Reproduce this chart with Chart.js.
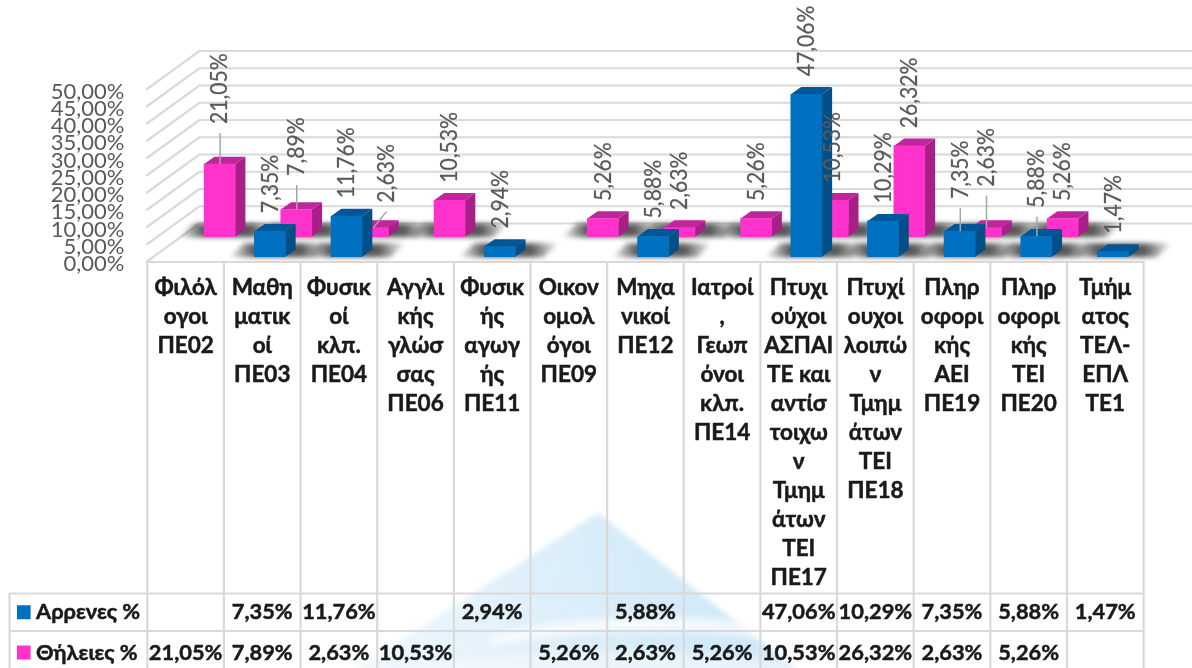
<!DOCTYPE html>
<html>
<head>
<meta charset="utf-8">
<style>
  html, body { margin: 0; padding: 0; background: #fff; overflow: hidden; }
  canvas { display: block; }
</style>
<script src="https://cdn.jsdelivr.net/npm/chart.js@4"></script>
</head>
<body>
<canvas id="chart" width="1192" height="668"></canvas>
<script>
// Values
const categories = [
  ["Φιλόλ", "ογοι", "ΠΕ02"],
  ["Μαθη", "ματικ", "οί", "ΠΕ03"],
  ["Φυσικ", "οί", "κλπ.", "ΠΕ04"],
  ["Αγγλι", "κής", "γλώσ", "σας", "ΠΕ06"],
  ["Φυσικ", "ής", "αγωγ", "ής", "ΠΕ11"],
  ["Οικον", "ομολ", "όγοι", "ΠΕ09"],
  ["Μηχα", "νικοί", "ΠΕ12"],
  ["Ιατροί", ",", "Γεωπ", "όνοι", "κλπ.", "ΠΕ14"],
  ["Πτυχι", "ούχοι", "ΑΣΠΑΙ", "ΤΕ και", "αντίσ", "τοιχω", "ν", "Τμημ", "άτων", "ΤΕΙ", "ΠΕ17"],
  ["Πτυχί", "ουχοι", "λοιπώ", "ν", "Τμημ", "άτων", "ΤΕΙ", "ΠΕ18"],
  ["Πληρ", "οφορι", "κής", "ΑΕΙ", "ΠΕ19"],
  ["Πληρ", "οφορι", "κής", "ΤΕΙ", "ΠΕ20"],
  ["Τμήμ", "ατος", "ΤΕΛ-", "ΕΠΛ", "ΤΕ1"]
];
const maleValues = [null, 7.35, 11.76, null, 2.94, null, 5.88, null, 47.06, 10.29, 7.35, 5.88, 1.47];
const femaleValues = [21.05, 7.89, 2.63, 10.53, null, 5.26, 2.63, 5.26, 10.53, 26.32, 2.63, 5.26, null];
const seriesNames = ["Αρρενες %", "Θήλειες %"];
const axisMax = 50;
const axisStep = 5;

// Styles of the 3D look, one entry per dataset
const looks = [
  { front: "#0070c0", side: "#004f88", top: "#005797", dx: 7.6, dy: -5.3, labelDx: 8.3, gap: 18 },
  { front: "#ff33cc", side: "#a81f88", top: "#c0269c", dx: 34, dy: -25.3, labelDx: 34.5, gap: 17.6 }
];
// labels pulled away from their bar, with a leader line: dataset, category, up, right
const pulledLabels = [
  [1, 0, 22.4, 0], [1, 1, 16, 0], [1, 2, 7.4, 13], [1, 10, 23.4, 0],
  [0, 10, 14.3, 0], [0, 11, 10.7, 0]
];

const wallDx = 52, wallDy = -38.5;
const sideDx = 10.3, sideDy = -7.3;
const greek = "Lato, 'Noto Sans', sans-serif";

function pct(v) {
  return v.toFixed(2).replace(".", ",") + "%";
}

function poly(ctx, pts, fill) {
  ctx.beginPath();
  pts.forEach((p, i) => i ? ctx.lineTo(p[0], p[1]) : ctx.moveTo(p[0], p[1]));
  ctx.closePath();
  ctx.fillStyle = fill;
  ctx.fill();
}

// Faint logo behind the table
function drawWatermark(ctx) {
  ctx.save();
  ctx.filter = "blur(2.5px)";
  const g = ctx.createLinearGradient(360, 668, 740, 560);
  g.addColorStop(0, "#f1f8fd");
  g.addColorStop(0.5, "#ddeffa");
  g.addColorStop(1, "#cfe8f8");
  poly(ctx, [[598, 513], [800, 672], [352, 672]], g);
  ctx.filter = "blur(4px)";
  ctx.fillStyle = "rgba(255,255,255,0.8)";
  ctx.beginPath();
  ctx.moveTo(490, 636);
  ctx.quadraticCurveTo(600, 608, 740, 622);
  ctx.lineTo(765, 636);
  ctx.quadraticCurveTo(600, 622, 490, 646);
  ctx.closePath();
  ctx.fill();
  ctx.beginPath();
  ctx.moveTo(400, 666);
  ctx.quadraticCurveTo(600, 642, 790, 660);
  ctx.lineTo(805, 672);
  ctx.lineTo(400, 672);
  ctx.closePath();
  ctx.globalAlpha = 0.6;
  ctx.fill();
  ctx.restore();
}

// Left wall and back wall gridlines come from the y scale
function drawWalls(chart) {
  const { ctx, chartArea, scales } = chart;
  ctx.save();
  ctx.strokeStyle = "#d9d9d9";
  ctx.lineWidth = 2.2;
  scales.y.ticks.forEach(t => {
    const y = scales.y.getPixelForValue(t.value);
    ctx.beginPath();
    ctx.moveTo(chartArea.left - 1, y);
    ctx.lineTo(chartArea.left + wallDx, y + wallDy);
    ctx.lineTo(chart.width + 5, y + wallDy);
    ctx.stroke();
  });
  ctx.restore();
}

function drawShadows(chart) {
  const { ctx } = chart;
  ctx.save();
  ctx.filter = "blur(2.5px)";
  [1, 0].forEach(d => {
    const look = looks[d];
    const meta = chart.getDatasetMeta(d);
    chart.data.datasets[d].data.forEach((v, i) => {
      if (v == null) return;
      const bar = meta.data[i];
      const l = bar.x + look.dx - bar.width / 2;
      const r = l + bar.width;
      const yb = bar.base + look.dy + 0.5;
      const yt = yb - 14;
      const g = ctx.createLinearGradient(l - 26, 0, r + 44, 0);
      g.addColorStop(0, "rgba(60,60,60,0)");
      g.addColorStop(0.25, "rgba(60,60,60,0.85)");
      g.addColorStop(0.72, "rgba(60,60,60,0.85)");
      g.addColorStop(1, "rgba(60,60,60,0)");
      poly(ctx, [[l - 26, yb], [r + 28, yb], [r + 44, yt], [l - 10, yt]], g);
    });
  });
  ctx.restore();
}

// Table under the plot: lines, legend keys and value rows
function drawTable(chart) {
  const { ctx, chartArea, scales } = chart;
  const rowTop = [593.5, 631];
  const rowEnd = 668;
  const left = 9.6;
  ctx.save();
  ctx.strokeStyle = "#d9d9d9";
  ctx.lineWidth = 2.2;
  ctx.beginPath();
  ctx.moveTo(chartArea.left - 1, chartArea.bottom);
  ctx.lineTo(chartArea.right + 1, chartArea.bottom);
  const colW = scales.x.width / categories.length;
  for (let i = 0; i <= categories.length; i++) {
    const x = chartArea.left + i * colW;
    ctx.moveTo(x, chartArea.bottom);
    ctx.lineTo(x, rowEnd);
  }
  ctx.moveTo(left, rowTop[0]);
  ctx.lineTo(left, rowEnd);
  rowTop.forEach(y => {
    ctx.moveTo(left - 1, y);
    ctx.lineTo(chartArea.right + 1, y);
  });
  ctx.stroke();

  ctx.font = "bold 21.8px " + greek;
  ctx.textBaseline = "middle";
  ctx.lineWidth = 0.5;
  ctx.strokeStyle = "#1a1a1a";
  const put = (text, x, y) => {
    ctx.fillText(text, x, y);
    ctx.strokeText(text, x, y);
  };
  chart.data.datasets.forEach((ds, d) => {
    const cy = (rowTop[d] + (rowTop[d + 1] || rowEnd + 6)) / 2;
    ctx.fillStyle = ds.backgroundColor;
    ctx.fillRect(17, cy - 7, 13.6, 14);
    ctx.fillStyle = "#1a1a1a";
    ctx.textAlign = "left";
    put(ds.label, 36, cy);
    ctx.textAlign = "center";
    ds.data.forEach((v, i) => {
      if (v != null) put(pct(v), scales.x.getPixelForTick(i), cy);
    });
  });
  ctx.restore();
}

function drawDataLabels(chart) {
  const { ctx } = chart;
  ctx.save();
  ctx.font = "22.5px Lato, sans-serif";
  ctx.textAlign = "left";
  ctx.textBaseline = "middle";
  chart.data.datasets.forEach((ds, d) => {
    const look = looks[d];
    const meta = chart.getDatasetMeta(d);
    ds.data.forEach((v, i) => {
      if (v == null) return;
      const bar = meta.data[i];
      const pull = pulledLabels.find(p => p[0] === d && p[1] === i);
      const topY = bar.y + look.dy;
      const x = bar.x + look.labelDx + (pull ? pull[3] : 0);
      const y = topY - look.gap - (pull ? pull[2] : 0);
      if (pull) {
        ctx.strokeStyle = "#a6a6a6";
        ctx.lineWidth = 1.5;
        ctx.beginPath();
        ctx.moveTo(x, y + 9);
        ctx.lineTo(bar.x + look.labelDx, topY);
        ctx.stroke();
      }
      ctx.save();
      ctx.translate(x, y);
      ctx.rotate(-Math.PI / 2);
      ctx.scale(0.94, 1);
      ctx.fillStyle = "#595959";
      ctx.strokeStyle = "#595959";
      ctx.lineWidth = 0.25;
      ctx.fillText(pct(v), 0, 0);
      ctx.strokeText(pct(v), 0, 0);
      ctx.restore();
    });
  });
  ctx.restore();
}

const box3d = {
  id: "box3d",
  beforeDraw(chart) {
    drawWatermark(chart.ctx);
  },
  beforeDatasetsDraw(chart) {
    drawWalls(chart);
    drawShadows(chart);
    drawTable(chart);
  },
  // the library draws the front face inside this shifted context
  beforeDatasetDraw(chart, args) {
    const { ctx } = chart;
    const look = looks[args.index];
    ctx.save();
    ctx.translate(look.dx, look.dy);
    args.meta.data.forEach((bar, i) => {
      if (chart.data.datasets[args.index].data[i] == null) return;
      const l = bar.x - bar.width / 2;
      const r = bar.x + bar.width / 2;
      poly(ctx, [[r, bar.y], [r + sideDx, bar.y + sideDy], [r + sideDx, bar.base + sideDy], [r, bar.base]], look.side);
      poly(ctx, [[l, bar.y], [l + sideDx, bar.y + sideDy], [r + sideDx, bar.y + sideDy], [r, bar.y]], look.top);
    });
  },
  afterDatasetDraw(chart) {
    chart.ctx.restore();
  },
  afterDatasetsDraw(chart) {
    drawDataLabels(chart);
  }
};

new Chart(document.getElementById("chart"), {
  type: "bar",
  data: {
    labels: categories,
    datasets: [
      { label: seriesNames[0], data: maleValues, backgroundColor: looks[0].front, clip: false, grouped: false, barThickness: 31 },
      { label: seriesNames[1], data: femaleValues, backgroundColor: looks[1].front, clip: false, grouped: false, barThickness: 31 }
    ]
  },
  options: {
    responsive: false,
    animation: false,
    layout: { padding: { left: 0, right: 48.4, top: 89.5, bottom: 0 } },
    plugins: { legend: { display: false }, tooltip: { enabled: false } },
    scales: {
      x: {
        grid: { display: false, drawTicks: false },
        border: { display: false },
        afterFit(scale) { scale.height = 406; },
        ticks: {
          autoSkip: false,
          maxRotation: 0,
          minRotation: 0,
          padding: 11,
          color: "#1a1a1a",
          textStrokeColor: "#1a1a1a",
          textStrokeWidth: 0.5,
          font: { family: greek, size: 22.5, weight: "bold", lineHeight: "29.07px" }
        }
      },
      y: {
        min: 0,
        max: axisMax,
        grid: { display: false, drawTicks: false },
        border: { display: false },
        afterFit(scale) { scale.width = 147.3; },
        ticks: {
          stepSize: axisStep,
          autoSkip: false,
          padding: 23,
          labelOffset: 2,
          color: "#595959",
          font: { family: "Lato, sans-serif", size: 22, lineHeight: 1 },
          callback: v => pct(v)
        }
      }
    }
  },
  plugins: [box3d]
});
</script>
</body>
</html>
